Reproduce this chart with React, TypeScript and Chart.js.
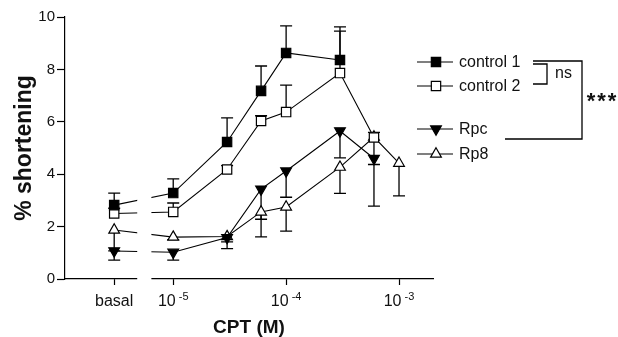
import { useEffect, useRef } from 'react';
import { Chart, registerables } from 'chart.js';
import { drawPoint } from 'chart.js/helpers';

Chart.register(...registerables);

const FONT = "Arial, 'Liberation Sans', Helvetica, sans-serif";

// Position of the "basal" (no CPT) group on the logarithmic dose axis
const BASAL_DOSE = 3e-6;

// control 1
const CONTROL1_DOSES = [BASAL_DOSE, 1e-5, 3e-5, 6e-5, 1e-4, 3e-4];
const CONTROL1_MEAN = [2.82, 3.28, 5.23, 7.18, 8.63, 8.36];
const CONTROL1_SEM = [0.46, 0.54, 0.92, 0.95, 1.03, 1.26];

// control 2
const CONTROL2_DOSES = [BASAL_DOSE, 1e-5, 3e-5, 6e-5, 1e-4, 3e-4, 6e-4];
const CONTROL2_MEAN = [2.5, 2.56, 4.18, 6.03, 6.37, 7.86, 5.4];
const CONTROL2_SEM = [0.2, 0.34, 0.15, 0.2, 1.03, 1.6, 0.2];

// Rpc
const RPC_DOSES = [BASAL_DOSE, 1e-5, 3e-5, 6e-5, 1e-4, 3e-4, 6e-4];
const RPC_MEAN = [1.07, 1.02, 1.58, 3.43, 4.12, 5.65, 4.6];
const RPC_SEM = [0.35, 0.3, 0.42, 1.15, 1.0, 1.03, 1.82];

// Rp8
const RP8_DOSES = [BASAL_DOSE, 1e-5, 3e-5, 6e-5, 1e-4, 3e-4, 6e-4, 1e-3];
const RP8_MEAN = [1.87, 1.6, 1.62, 2.56, 2.75, 4.27, 5.42, 4.42];
const RP8_SEM = [0.8, 0.1, 0.2, 0.95, 0.92, 1.0, 1.05, 1.25];

const X_TICKS = [BASAL_DOSE, 1e-5, 1e-4, 1e-3];
const X_TICK_BASES = ['basal', '10', '10', '10'];
const X_TICK_EXPONENTS = ['', '-5', '-4', '-3'];
const Y_TICKS = [0, 2, 4, 6, 8, 10];

type Series = {
  label: string;
  doses: number[];
  mean: number[];
  sem: number[];
  errUp: boolean;
  pointStyle: 'rect' | 'triangle';
  filled: boolean;
  rotation: number;
};

const SERIES: Series[] = [
  { label: 'control 1', doses: CONTROL1_DOSES, mean: CONTROL1_MEAN, sem: CONTROL1_SEM, errUp: true, pointStyle: 'rect', filled: true, rotation: 0 },
  { label: 'control 2', doses: CONTROL2_DOSES, mean: CONTROL2_MEAN, sem: CONTROL2_SEM, errUp: true, pointStyle: 'rect', filled: false, rotation: 0 },
  { label: 'Rpc', doses: RPC_DOSES, mean: RPC_MEAN, sem: RPC_SEM, errUp: false, pointStyle: 'triangle', filled: true, rotation: 180 },
  { label: 'Rp8', doses: RP8_DOSES, mean: RP8_MEAN, sem: RP8_SEM, errUp: false, pointStyle: 'triangle', filled: false, rotation: 0 },
];

const markerRadius = (s: Series) => (s.pointStyle === 'rect' ? 6.6 : 6.2);

// One-sided SEM bars, drawn beneath the markers
const errorBars = {
  id: 'errorBars',
  beforeDatasetsDraw(chart: any) {
    const ctx = chart.ctx;
    const ys = chart.scales.y;
    ctx.save();
    ctx.strokeStyle = '#000';
    ctx.lineWidth = 1.3;
    SERIES.forEach((s, di) => {
      const meta = chart.getDatasetMeta(di);
      meta.data.forEach((pt: any, i: number) => {
        const err = s.sem[i];
        if (!err) return;
        const end = ys.getPixelForValue(s.mean[i] + (s.errUp ? err : -err));
        ctx.beginPath();
        ctx.moveTo(pt.x, pt.y);
        ctx.lineTo(pt.x, end);
        ctx.moveTo(pt.x - 6, end);
        ctx.lineTo(pt.x + 6, end);
        ctx.stroke();
      });
    });
    ctx.restore();
  },
};

// Axis break between the basal group and the dose range
const axisBreak = {
  id: 'axisBreak',
  afterDatasetsDraw(chart: any) {
    const { ctx, chartArea } = chart;
    const xs = chart.scales.x;
    const a = xs.getPixelForValue(BASAL_DOSE);
    const b = xs.getPixelForValue(1e-5);
    const g0 = a + (b - a) * 0.39;
    const g1 = a + (b - a) * 0.63;
    ctx.save();
    ctx.fillStyle = '#fff';
    ctx.fillRect(g0, chartArea.top - 2, g1 - g0, chartArea.bottom - chartArea.top + 4);
    ctx.restore();
  },
};

// Dose tick labels with superscript exponents
const doseLabels = {
  id: 'doseLabels',
  afterDraw(chart: any) {
    const { ctx, chartArea } = chart;
    const xs = chart.scales.x;
    const y = chartArea.bottom + 27;
    ctx.save();
    ctx.fillStyle = '#111';
    ctx.textBaseline = 'alphabetic';
    ctx.textAlign = 'left';
    X_TICKS.forEach((v, i) => {
      const px = xs.getPixelForValue(v);
      ctx.font = `16px ${FONT}`;
      const bw = ctx.measureText(X_TICK_BASES[i]).width;
      ctx.font = `11px ${FONT}`;
      const ew = X_TICK_EXPONENTS[i] ? ctx.measureText(X_TICK_EXPONENTS[i]).width + 3 : 0;
      const left = px - (bw + ew) / 2;
      ctx.font = `16px ${FONT}`;
      ctx.fillText(X_TICK_BASES[i], left, y);
      if (ew) {
        ctx.font = `11px ${FONT}`;
        ctx.fillText(X_TICK_EXPONENTS[i], left + bw + 3, y - 6);
      }
    });
    ctx.restore();
  },
};

// Legend with significance brackets
const LEGEND_ROWS = [62, 86, 129, 154];
const legendAndBrackets = {
  id: 'legendAndBrackets',
  afterDraw(chart: any) {
    const ctx = chart.ctx;
    ctx.save();
    ctx.strokeStyle = '#000';
    ctx.lineWidth = 1.2;
    SERIES.forEach((s, i) => {
      const y = LEGEND_ROWS[i];
      ctx.beginPath();
      ctx.moveTo(417, y);
      ctx.lineTo(453, y);
      ctx.stroke();
      ctx.fillStyle = s.filled ? '#000' : '#fff';
      drawPoint(ctx, { pointStyle: s.pointStyle, rotation: s.rotation, radius: markerRadius(s), borderWidth: 1.2 } as any, 436, y);
      ctx.fillStyle = '#111';
      ctx.font = `16px ${FONT}`;
      ctx.textBaseline = 'middle';
      ctx.textAlign = 'left';
      ctx.fillText(s.label, 459, y + 1);
    });

    ctx.lineWidth = 1.3;
    ctx.beginPath();
    // control 1 vs Rpc
    ctx.moveTo(533, 61);
    ctx.lineTo(582, 61);
    ctx.lineTo(582, 139);
    ctx.lineTo(505, 139);
    // control 1 vs control 2
    ctx.moveTo(533, 64);
    ctx.lineTo(547, 64);
    ctx.lineTo(547, 84);
    ctx.lineTo(533, 84);
    ctx.stroke();

    ctx.fillStyle = '#111';
    ctx.font = `16px ${FONT}`;
    ctx.textBaseline = 'middle';
    ctx.fillText('ns', 555, 74);
    ctx.font = `bold 22px ${FONT}`;
    ctx.textAlign = 'center';
    for (let k = 0; k < 3; k++) ctx.fillText('*', 591 + k * 10.5, 102);
    ctx.restore();
  },
};

export default function App() {
  const ref = useRef<HTMLCanvasElement>(null);

  useEffect(() => {
    if (!ref.current) return;
    const chart = new Chart(ref.current, {
      type: 'line',
      data: {
        datasets: SERIES.map((s) => ({
          label: s.label,
          data: s.doses.map((d, i) => ({ x: d, y: s.mean[i] })),
          borderColor: '#000',
          borderWidth: 1.1,
          pointStyle: s.pointStyle,
          pointRotation: s.rotation,
          pointRadius: markerRadius(s),
          pointBorderWidth: 1.2,
          pointBorderColor: '#000',
          pointBackgroundColor: s.filled ? '#000' : '#fff',
          tension: 0,
          fill: false,
        })),
      },
      options: {
        animation: false,
        responsive: false,
        events: [],
        layout: { padding: { top: 17, right: 185, bottom: 0, left: 0 } },
        plugins: { legend: { display: false }, tooltip: { enabled: false } },
        scales: {
          x: {
            type: 'logarithmic',
            min: 1.1e-6,
            max: 2e-3,
            afterBuildTicks: (scale: any) => {
              scale.ticks = X_TICKS.map((v) => ({ value: v }));
            },
            afterFit: (scale: any) => {
              scale.height = 58;
            },
            ticks: { display: false },
            grid: { drawOnChartArea: false, drawTicks: true, tickLength: 6, tickColor: '#000', tickWidth: 1.2 },
            border: { color: '#000', width: 1.2 },
            title: {
              display: true,
              text: 'CPT (M)',
              color: '#111',
              font: { family: FONT, size: 19, weight: 'bold', lineHeight: 1 },
              padding: { top: 0, bottom: 0 },
            },
          },
          y: {
            type: 'linear',
            min: 0,
            max: 10,
            afterBuildTicks: (scale: any) => {
              scale.ticks = Y_TICKS.map((v) => ({ value: v }));
            },
            afterFit: (scale: any) => {
              scale.width = 65;
            },
            ticks: { color: '#111', font: { family: FONT, size: 15 }, padding: 2 },
            grid: { drawOnChartArea: false, drawTicks: true, tickLength: 8, tickColor: '#000', tickWidth: 1.2 },
            border: { color: '#000', width: 1.2 },
            title: {
              display: true,
              text: '% shortening',
              color: '#111',
              font: { family: FONT, size: 23, weight: 'bold', lineHeight: 1.2 },
              padding: { top: 11, bottom: 0 },
            },
          },
        },
      },
      plugins: [errorBars, axisBreak, doseLabels, legendAndBrackets],
    } as any);
    return () => chart.destroy();
  }, []);

  return (
    <div style={{ position: 'absolute', left: 0, top: 0, width: 618, height: 337, background: '#fff' }}>
      <canvas ref={ref} width={618} height={337} style={{ display: 'block' }} />
    </div>
  );
}
